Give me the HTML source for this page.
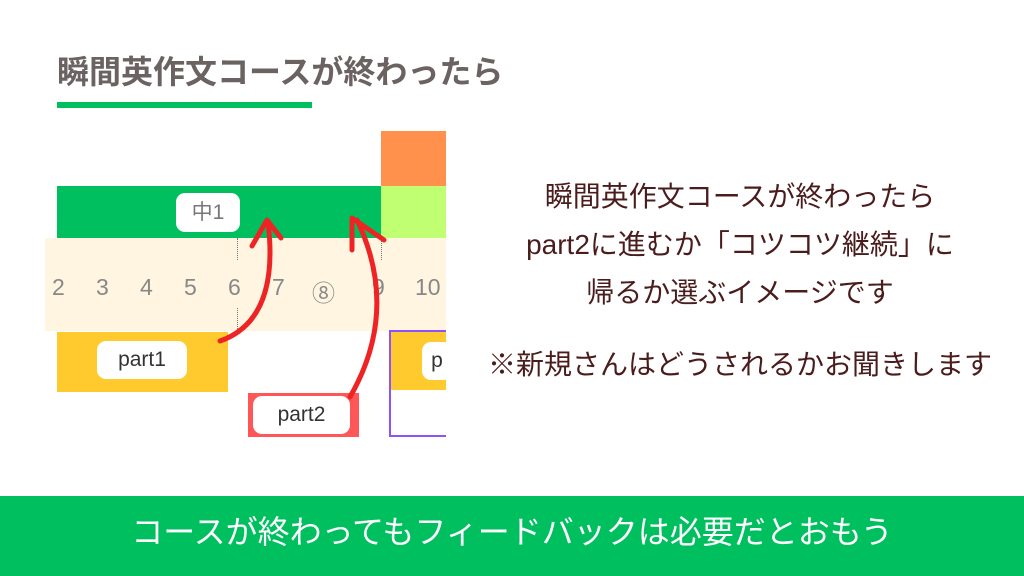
<!DOCTYPE html>
<html><head><meta charset="utf-8"><style>
body{margin:0;width:1024px;height:576px;background:#fff;position:relative;overflow:hidden;font-family:"Liberation Sans","Noto Sans CJK JP",sans-serif}
.a{position:absolute}
.lbl{position:absolute;background:#fff;border-radius:9px;text-align:center;color:#333;font-size:21px}
.num{position:absolute;top:274px;font-size:23px;color:#888}
.rt{position:absolute;left:470px;width:540px;text-align:center;color:#4a1c1c;font-size:28px;line-height:32px}
</style></head><body>
<div class="a" style="left:57px;top:50px;font-size:32px;font-weight:bold;color:#6b6262;font-family:'Noto Sans CJK JP',sans-serif;line-height:40px">瞬間英作文コースが終わったら</div>
<div class="a" style="left:57px;top:102px;width:255px;height:6px;background:#00bf5f"></div>

<div class="a" style="left:381px;top:131px;width:65px;height:55px;background:#ff914d"></div>
<div class="a" style="left:381px;top:186px;width:65px;height:52px;background:#c1ff72"></div>
<div class="a" style="left:57px;top:186px;width:324px;height:52px;background:#00bf5f"></div>
<div class="a" style="left:45px;top:238px;width:401px;height:93px;background:#fff5e1"></div>
<div class="lbl" style="left:176px;top:193px;width:64px;height:39px;line-height:39px;color:#777">中1</div>
<div class="num" style="left:52px">2</div><div class="num" style="left:96px">3</div><div class="num" style="left:140px">4</div><div class="num" style="left:184px">5</div><div class="num" style="left:228px">6</div><div class="num" style="left:272px">7</div><div class="num" style="left:312px">⑧</div><div class="num" style="left:372px">9</div><div class="num" style="left:415px">10</div>
<div class="a" style="left:237px;top:238px;height:22px;border-left:1px dotted #777"></div>
<div class="a" style="left:237px;top:308px;height:23px;border-left:1px dotted #777"></div>
<div class="a" style="left:381px;top:238px;height:22px;border-left:1px dotted #777"></div>

<div class="a" style="left:57px;top:332px;width:171px;height:60px;background:#ffca2e"></div>
<div class="lbl" style="left:97px;top:341px;width:90px;height:38px;line-height:38px">part1</div>
<div class="a" style="left:248px;top:393px;width:111px;height:44px;background:#ff5757"></div>
<div class="lbl" style="left:253px;top:396px;width:97px;height:38px;line-height:38px">part2</div>
<div class="a" style="left:389px;top:330px;width:57px;height:107px;border:2px solid #8c52ff;border-right:none;box-sizing:border-box"></div>
<div class="a" style="left:391px;top:332px;width:55px;height:58px;background:#ffca2e"></div>
<div class="lbl" style="left:422px;top:342px;width:30px;height:38px;line-height:38px">p</div>
<div class="a" style="left:446px;top:120px;width:30px;height:330px;background:#fff"></div>

<svg class="a" style="left:0;top:0" width="1024" height="576">
<g fill="none" stroke="#ee2424" stroke-width="5" stroke-linecap="round" stroke-linejoin="round">
<path d="M220 341 Q 280 320 268 222"/>
<path d="M252 246 L267 220 L281 238"/>
<path d="M350 397 Q 400 310 357 220"/>
<path d="M352 250 L352 218 L384 240"/>
</g></svg>

<div class="rt" style="top:181px">瞬間英作文コースが終わったら</div>
<div class="rt" style="top:229px">part2に進むか「コツコツ継続」に</div>
<div class="rt" style="top:277px">帰るか選ぶイメージです</div>
<div class="rt" style="top:349px">※新規さんはどうされるかお聞きします</div>

<div class="a" style="left:0;top:496px;width:1024px;height:80px;background:#00bf5f;color:#fff;font-size:32px;text-align:center;line-height:72px">コースが終わってもフィードバックは必要だとおもう</div>
</body></html>
